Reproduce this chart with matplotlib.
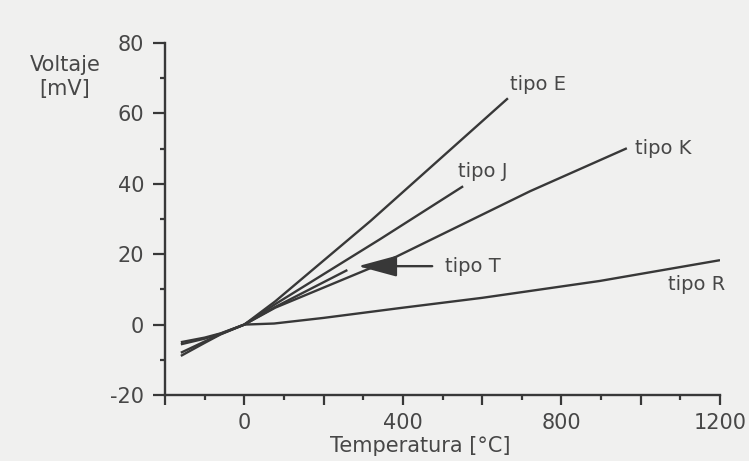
import matplotlib
matplotlib.use("Agg")
import matplotlib.pyplot as plt
from matplotlib.ticker import MultipleLocator, FixedLocator, FuncFormatter

# --- data ---
temp_E = [-160, -100, -60, 0, 78, 318, 665]
volt_E = [-8.9, -5.2, -2.8, 0, 6.6, 29.4, 64.3]

temp_J = [-160, -100, -60, 0, 78, 343, 552]
volt_J = [-8.0, -4.8, -2.7, 0, 5.8, 24.3, 39.3]

temp_K = [-160, -100, -60, 0, 78, 360, 721, 965]
volt_K = [-5.6, -4.0, -2.6, 0, 4.8, 18.0, 37.9, 50.1]

temp_T = [-160, -100, -60, 0, 78, 260]
volt_T = [-5.0, -3.7, -2.5, 0, 5.0, 15.5]

temp_R = [0, 75, 200, 393, 600, 897, 1200]
volt_R = [0, 0.3, 1.9, 4.7, 7.6, 12.4, 18.3]

labels = ["tipo E", "tipo J", "tipo K", "tipo T", "tipo R"]
label_pos = [(671, 68.2), (539, 43.6), (986, 49.9), (507, 16.6), (1069, 11.5)]

x_ticklabels = [0, 400, 800, 1200]
y_ticklabels = [-20, 0, 20, 40, 60, 80]

bg = "#f0f0ef"
ink = "#383838"
txt = "#474747"

plt.rcParams['font.family'] = ['DejaVu Sans']
plt.rcParams['axes.unicode_minus'] = False

fig = plt.figure(figsize=(7.49, 4.61), dpi=100, facecolor=bg)
ax = fig.add_axes([0.2203, 0.1432, 0.9613 - 0.2203, 0.9067 - 0.1432])
ax.set_facecolor(bg)

for t, v in [(temp_E, volt_E), (temp_J, volt_J), (temp_K, volt_K), (temp_T, volt_T), (temp_R, volt_R)]:
    ax.plot(t, v, color=ink, lw=1.7, solid_capstyle='butt')

for lab, (x, y) in zip(labels, label_pos):
    ax.text(x, y, lab, fontsize=14, color=txt, ha='left', va='center')

# arrow pointing to tipo T
ax.annotate("", xy=(287, 16.6), xytext=(474, 16.6),
            arrowprops=dict(arrowstyle="-|>,head_length=2.4,head_width=0.65",
                            color=ink, lw=1.7, shrinkA=0, shrinkB=0))

ax.set_xlim(-200, 1200)
ax.set_ylim(-20, 80)

for s in ['top', 'right']:
    ax.spines[s].set_visible(False)
for s in ['left', 'bottom']:
    ax.spines[s].set_color(ink)
    ax.spines[s].set_linewidth(1.7)

ax.xaxis.set_major_locator(FixedLocator(list(range(-200, 1201, 200))))
ax.xaxis.set_major_formatter(FuncFormatter(lambda v, p: f"{int(v)}" if int(v) in x_ticklabels else ""))
ax.xaxis.set_minor_locator(MultipleLocator(100))
ax.yaxis.set_major_locator(FixedLocator(y_ticklabels))
ax.yaxis.set_minor_locator(MultipleLocator(10))

ax.tick_params(axis='x', which='major', direction='out', length=7, width=1.6,
               color=ink, labelsize=15, labelcolor=txt, pad=6)
ax.tick_params(axis='x', which='minor', direction='out', length=3.5, width=1.6, color=ink)
ax.tick_params(axis='y', which='major', direction='out', length=9, width=1.6,
               color=ink, labelsize=15, labelcolor=txt, pad=6)
ax.tick_params(axis='y', which='minor', direction='out', length=3.5, width=1.6, color=ink)

fig.text(65 / 749, 1 - 77 / 461, "Voltaje\n[mV]", fontsize=15, color=txt,
         ha='center', va='center', linespacing=1.3)
fig.text(420 / 749, 1 - 446 / 461, "Temperatura [°C]", fontsize=15, color=txt,
         ha='center', va='center')

fig.savefig("out.png", dpi=100, facecolor=bg)
